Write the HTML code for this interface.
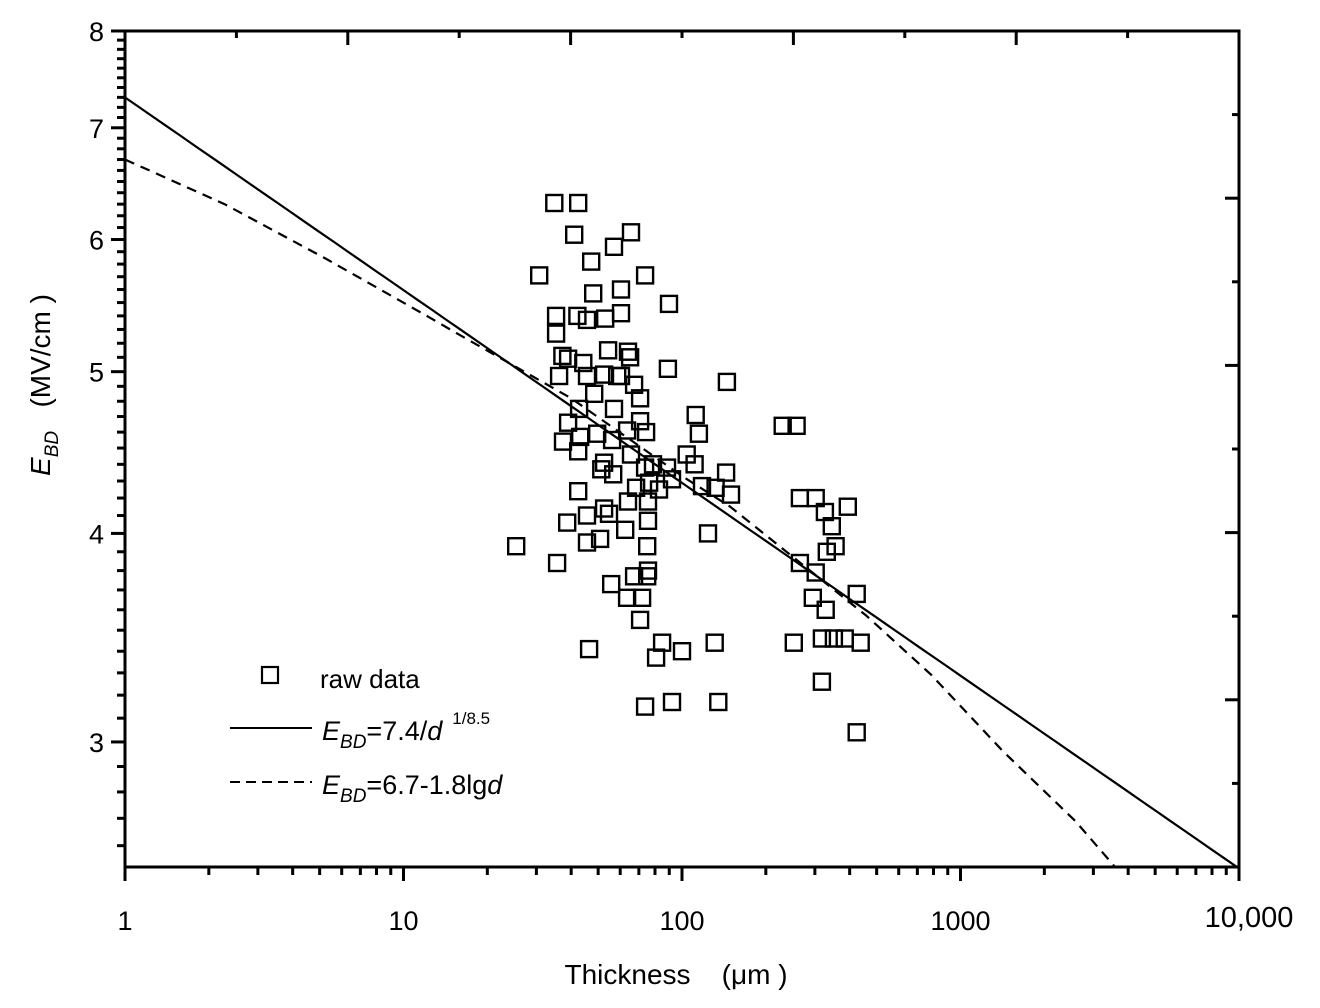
<!DOCTYPE html>
<html><head><meta charset="utf-8"><style>
html,body{margin:0;padding:0;background:#fff;}
svg{display:block;font-family:"Liberation Sans",Arial,sans-serif;}
</style></head><body>
<svg id="chart" width="1320" height="1008" viewBox="0 0 1320 1008" xmlns="http://www.w3.org/2000/svg">
<rect width="1320" height="1008" fill="#fff"/>
<defs><clipPath id="plotclip"><rect x="125" y="31" width="1114" height="836"/></clipPath></defs>
<g id="ticks"></g>
<g id="series" clip-path="url(#plotclip)"></g>
<rect x="125" y="31" width="1114" height="836" fill="none" stroke="#000" stroke-width="3"/>
<g id="labels" font-size="27" fill="#000"></g>
<text x="676" y="984" font-size="28" text-anchor="middle" xml:space="preserve">Thickness    (μm )</text>
<text transform="translate(50,385) rotate(-90)" font-size="28" text-anchor="middle" xml:space="preserve"><tspan font-style="italic">E</tspan><tspan font-style="italic" font-size="19" dy="8">BD</tspan><tspan dy="-8">   (MV/cm )</tspan></text>
<g>
<rect x="262" y="667" width="16" height="16" fill="none" stroke="#000" stroke-width="2.2"/>
<text x="320" y="688" font-size="26">raw data</text>
<line x1="230" y1="728" x2="312" y2="728" stroke="#000" stroke-width="2"/>
<text x="322" y="740" font-size="27"><tspan font-style="italic">E</tspan><tspan font-style="italic" font-size="19" dy="8">BD</tspan><tspan dy="-8">=7.4/</tspan><tspan font-style="italic">d</tspan><tspan font-size="17" dx="10" dy="-16">1/8.5</tspan></text>
<line x1="230" y1="782" x2="312" y2="782" stroke="#000" stroke-width="2" stroke-dasharray="10,6"/>
<text x="322" y="794" font-size="27"><tspan font-style="italic">E</tspan><tspan font-style="italic" font-size="19" dy="8">BD</tspan><tspan dy="-8">=6.7-1.8lg</tspan><tspan font-style="italic">d</tspan></text>
</g>
</svg>
<script>
const rawD = [25.4,35.6,34.8,42.4,30.7,41.0,35.3,35.3,47.2,57.0,65.6,73.7,48.0,60.4,89.8,53.0,45.6,42.1,60.4,37.2,39.0,54.3,64.0,36.2,44.2,52.5,58.5,65.1,45.6,60.4,42.7,48.4,67.3,70.7,57.0,39.0,37.4,43.1,42.4,49.6,56.1,63.5,70.7,74.3,52.5,51.3,56.6,65.6,78.7,73.7,88.3,111,104,112,115,145,89,42.4,38.7,45.6,52.5,54.7,50.8,45.6,64.0,62.5,68.4,76.2,75.5,75.5,75.0,82.7,92.1,118,132,144,150,124,230,258,265,302,326,345,331,356,265,302,295,328,318,351,384,394,424,438,252,131,100,84.8,80.7,46.4,55.7,63.5,67.3,70.7,75.0,71.9,75.5,92.1,73.7,135,318,424];
const rawE = [3.93,3.84,6.31,6.31,5.71,6.04,5.40,5.27,5.82,5.94,6.06,5.71,5.57,5.60,5.49,5.38,5.37,5.40,5.42,5.11,5.09,5.15,5.14,4.97,5.06,4.98,4.97,5.10,4.97,4.97,4.75,4.85,4.91,4.82,4.75,4.66,4.54,4.57,4.48,4.59,4.55,4.61,4.67,4.60,4.41,4.37,4.34,4.46,4.40,4.38,4.38,4.40,4.46,4.71,4.59,4.93,5.02,4.24,4.06,4.10,4.14,4.11,3.97,3.95,4.18,4.02,4.26,4.29,4.18,4.07,3.93,4.25,4.31,4.27,4.26,4.35,4.22,4.00,4.64,4.64,4.20,4.20,4.12,4.04,3.90,3.93,3.84,3.79,3.66,3.60,3.46,3.46,3.46,4.15,3.68,3.44,3.44,3.44,3.40,3.44,3.37,3.41,3.73,3.66,3.77,3.55,3.77,3.66,3.80,3.17,3.15,3.17,3.26,3.04];
const powerCoef = 7.3;
const powerExp = 0.1155;
const dashD = [1,2.28,5.2,11.9,15.6,40,100,149,460,787,1426,2584,3624];
const dashE = [6.7,6.30,5.85,5.41,5.27,4.82,4.33,4.15,3.57,3.29,2.96,2.69,2.52];
const xTickVals = [1,10,100,1000,10000];
const xTickLabels = ["1","10","100","1000","10,000"];
const yTickVals = [3,4,5,6,7,8];
const yTickLabels = ["3","4","5","6","7","8"];

const NS="http://www.w3.org/2000/svg";
const X0=125,X1=1239,Y0=31,Y1=867;
const xMin=0,xMax=4;
const yMax=Math.log10(8), yMin=Math.log10(8)-(Y1-Y0)/1669;
function xs(d){return X0+(Math.log10(d)-xMin)/(xMax-xMin)*(X1-X0);}
function ys(e){return Y0+(yMax-Math.log10(e))/(yMax-yMin)*(Y1-Y0);}
function mk(tag,attrs,parent){const el=document.createElementNS(NS,tag);for(const k in attrs)el.setAttribute(k,attrs[k]);parent.appendChild(el);return el;}
const ticks=document.getElementById('ticks'),series=document.getElementById('series'),labels=document.getElementById('labels');

for(let dec=0;dec<4;dec++){for(let m=1;m<=9;m++){const v=m*Math.pow(10,dec);const x=xs(v);const len=m===1?14:8;
 const t=mk('line',{x1:x,y1:Y1,x2:x,y2:Y1+len,stroke:'#000','stroke-width':3},ticks);
 
 }}
{const t=mk('line',{x1:xs(10000),y1:Y1,x2:xs(10000),y2:Y1+14,stroke:'#000','stroke-width':3},ticks);
 
 }
xTickVals.forEach((v,i)=>{const t=mk('text',{x:i===4?xs(v)+10:xs(v),y:i===4?927:930,'text-anchor':'middle','font-size':i===4?29:27},labels);t.textContent=xTickLabels[i];
 
 });
for(let k=26;k<=80;k++){const v=k/10;const y=ys(v);const major=k%10===0;
 const t=mk('line',{x1:X0-(major?14:8),y1:y,x2:X0,y2:y,stroke:'#000','stroke-width':3},ticks);
 
 }
yTickVals.forEach((v,i)=>{const t=mk('text',{x:104,y:ys(v)+10,'text-anchor':'end'},labels);t.textContent=yTickLabels[i];
 
 });
for(let i=1;i<10;i++){const x=X0+i*(X1-X0)/10;const len=i%2===0?14:7;
 const t=mk('line',{x1:x,y1:Y0,x2:x,y2:Y0+len,stroke:'#000','stroke-width':3},ticks);
 
 
 const y=Y0+i*(Y1-Y0)/10;
 const r=mk('line',{x1:X1-len,y1:y,x2:X1,y2:y,stroke:'#000','stroke-width':3},ticks);
 
 }

let pts=[];for(let i=0;i<=80;i++){const lg=i/20;const d=Math.pow(10,lg);pts.push(xs(d).toFixed(1)+','+ys(powerCoef/Math.pow(d,powerExp)).toFixed(1));}
const pl=mk('polyline',{points:pts.join(' '),fill:'none',stroke:'#000','stroke-width':2.2},series);


const dl=mk('polyline',{points:dashD.map((d,i)=>xs(d).toFixed(1)+','+ys(dashE[i]).toFixed(1)).join(' '),fill:'none',stroke:'#000','stroke-width':2.2,'stroke-dasharray':'10,7','stroke-linejoin':'round'},series);


rawD.forEach((d,i)=>{const r=mk('rect',{x:(xs(d)-8).toFixed(1),y:(ys(rawE[i])-8).toFixed(1),width:16,height:16,fill:'none',stroke:'#000','stroke-width':2.4},series);
 
 });
</script>
</body></html>
